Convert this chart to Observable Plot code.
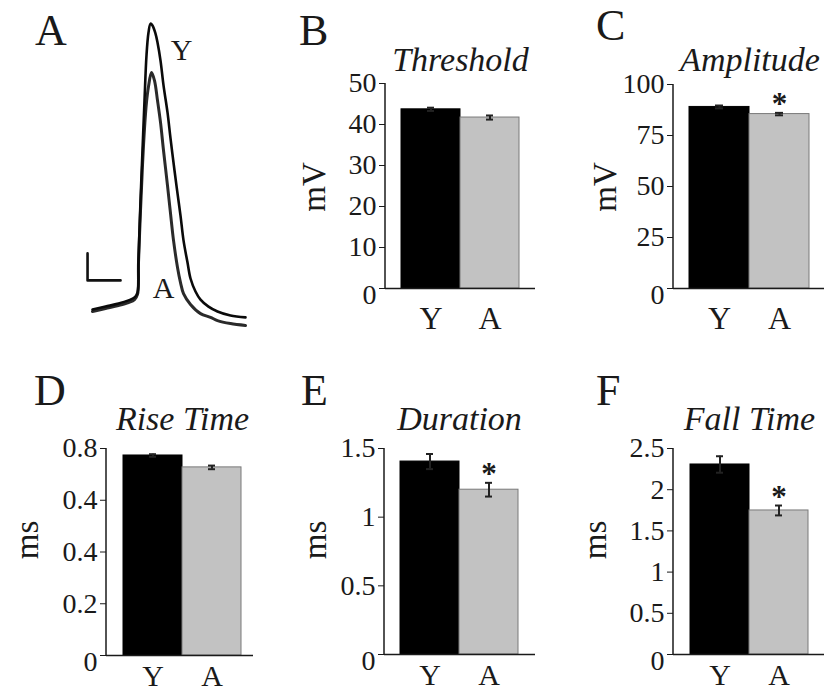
<!DOCTYPE html>
<html><head><meta charset="utf-8">
<script src="https://cdn.jsdelivr.net/npm/d3@7"></script>
<script src="https://cdn.jsdelivr.net/npm/@observablehq/plot@0.6"></script>
<style>
html,body{margin:0;padding:0;background:#fff;}
#fig{position:relative;width:824px;height:694px;overflow:hidden;background:#fff;}
#fig svg{position:absolute;left:0;top:0;}
</style></head><body><div id="fig"></div>
<script>
// ---------- DATA ----------
const groups = ["Y", "A"];

// Panel A: representative action potentials (time in ms, voltage in mV)
const traceYTime = [0,0.394,0.788,1.091,1.273,1.364,1.394,1.455,1.515,1.576,1.636,1.697,1.758,1.818,1.909,1.970,2.061,2.152,2.273,2.364,2.485,2.576,2.667,2.758,2.879,2.970,3.121,3.273,3.515,3.788,4.182,4.636];
const traceYVolt = [-66.5,-65.4,-64.3,-63.1,-62.0,-60.2,-48.3,-26.1,-7.6,10.9,27.6,36.1,39.4,38.7,35.7,32.4,25.7,16.5,6.5,-3.1,-15.0,-23.5,-31.7,-40.9,-49.1,-55.0,-59.8,-62.8,-65.4,-67.2,-68.7,-69.4];
const traceATime = [0,0.394,0.788,1.091,1.273,1.364,1.394,1.455,1.515,1.576,1.636,1.697,1.788,1.879,1.970,2.061,2.152,2.273,2.364,2.455,2.576,2.667,2.758,2.970,3.273,3.576,3.788,4.182,4.636];
const traceAVolt = [-67.2,-66.1,-65.0,-63.9,-62.8,-60.9,-49.1,-29.8,-13.1,0.6,10.2,16.1,21.3,18.3,10.9,2.8,-7.6,-20.6,-30.9,-40.9,-50.9,-56.5,-60.6,-64.6,-68.0,-69.4,-70.6,-71.7,-72.4];
const scaleBarMs = 1;
const scaleBarMv = 10;

// Panel B: Threshold (mV)
const thresholdMean = [43.7, 41.7];
const thresholdSem  = [0.4, 0.5];
const thresholdStar = [false, false];
const thresholdTicks = [0, 10, 20, 30, 40, 50];
const thresholdTickLabels = ["0", "10", "20", "30", "40", "50"];

// Panel C: Amplitude (mV)
const amplitudeMean = [89.0, 85.5];
const amplitudeSem  = [0.7, 0.6];
const amplitudeStar = [false, true];
const amplitudeTicks = [0, 25, 50, 75, 100];
const amplitudeTickLabels = ["0", "25", "50", "75", "100"];

// Panel D: Rise Time (ms)
const riseMean = [0.773, 0.727];
const riseSem  = [0.005, 0.007];
const riseStar = [false, false];
const riseTicks = [0, 0.2, 0.4, 0.6, 0.8];
const riseTickLabels = ["0", "0.2", "0.4", "0.4", "0.8"];

// Panel E: Duration (ms)
const durationMean = [1.405, 1.20];
const durationSem  = [0.055, 0.05];
const durationStar = [false, true];
const durationTicks = [0, 0.5, 1, 1.5];
const durationTickLabels = ["0", "0.5", "1", "1.5"];

// Panel F: Fall Time (ms)
const fallMean = [2.306, 1.748];
const fallSem  = [0.10, 0.06];
const fallStar = [false, true];
const fallTicks = [0, 0.5, 1, 1.5, 2, 2.5];
const fallTickLabels = ["0", "0.5", "1", "1.5", "2", "2.5"];

// ---------- LAYOUT ----------
const W = 824, H = 694;
const FONT = '"Liberation Serif","Times New Roman",serif';
const INK = "#1a1a1a";
const fig = document.getElementById("fig");

const panels = [
  {letter:"B", title:"Threshold", unit:"mV", mean:thresholdMean, sem:thresholdSem, star:thresholdStar, ticks:thresholdTicks, labels:thresholdTickLabels,
   axisX:385, barL:400, barR:519, baseEnd:535, yTop:83, yBot:288, letterX:299, letterY:45, titleY:71, unitX:314, unitY:187, xPad:18, xFont:32},
  {letter:"C", title:"Amplitude", unit:"mV", mean:amplitudeMean, sem:amplitudeSem, star:amplitudeStar, ticks:amplitudeTicks, labels:amplitudeTickLabels,
   axisX:673, barL:689, barR:809, baseEnd:824, yTop:84, yBot:288, letterX:596, letterY:40, titleY:71, unitX:605, unitY:187, xPad:18, xFont:32},
  {letter:"D", title:"Rise Time", unit:"ms", mean:riseMean, sem:riseSem, star:riseStar, ticks:riseTicks, labels:riseTickLabels,
   axisX:106, barL:122, barR:241, baseEnd:253, yTop:448, yBot:655, letterX:34, letterY:405, titleY:430, unitX:27, unitY:540, xPad:9, xFont:30},
  {letter:"E", title:"Duration", unit:"ms", mean:durationMean, sem:durationSem, star:durationStar, ticks:durationTicks, labels:durationTickLabels,
   axisX:384, barL:399, barR:518, baseEnd:535, yTop:448, yBot:654, letterX:301, letterY:405, titleY:430, unitX:315, unitY:540, xPad:9, xFont:30},
  {letter:"F", title:"Fall Time", unit:"ms", mean:fallMean, sem:fallSem, star:fallStar, ticks:fallTicks, labels:fallTickLabels,
   axisX:673, barL:689, barR:808, baseEnd:824, yTop:448, yBot:654, letterX:596, letterY:405, titleY:430, unitX:595, unitY:540, xPad:9, xFont:30}
];

function axisLine(index, scales, values, dimensions) {
  const y = scales.y;
  const dom = y.domain ? y.domain() : null;
  const [y0, y1] = dom ? [y(dom[0]), y(dom[dom.length - 1])] : [dimensions.height - dimensions.marginBottom, dimensions.marginTop];
  return d3.create("svg:line")
    .attr("x1", dimensions.marginLeft).attr("x2", dimensions.marginLeft)
    .attr("y1", y0).attr("y2", y1)
    .attr("stroke", INK).attr("stroke-width", 1.5).node();
}

function barPanel(p) {
  const data = groups.map((g, i) => ({g, m: p.mean[i], e: p.sem[i], star: p.star[i]}));
  const fmt = d => { const i = p.ticks.indexOf(d); return i >= 0 ? p.labels[i] : ""; };
  const yMax = p.ticks[p.ticks.length - 1];
  return Plot.plot({
    width: W, height: H,
    marginLeft: p.axisX, marginRight: W - p.baseEnd, marginTop: p.yTop, marginBottom: H - p.yBot,
    style: {background: "transparent", overflow: "visible", fontFamily: FONT, color: INK},
    x: {type: "band", domain: groups, range: [p.barL, p.barR], padding: 0, label: null},
    y: {domain: [0, yMax], label: null},
    marks: [
      Plot.barY(data.filter(d => d.g === "Y"), {x: "g", y: "m", fill: "#000", stroke: "#000", strokeWidth: 1}),
      Plot.barY(data.filter(d => d.g === "A"), {x: "g", y: "m", fill: "#c2c2c2", stroke: "#7a7a7a", strokeWidth: 1}),
      Plot.ruleX(data, {x: "g", y1: d => d.m - d.e, y2: d => d.m + d.e, stroke: "#222", strokeWidth: 2}),
      Plot.tickY(data, {x: "g", y: d => d.m + d.e, insetLeft: 26, insetRight: 26, stroke: "#222", strokeWidth: 2}),
      Plot.tickY(data, {x: "g", y: d => d.m - d.e, insetLeft: 26, insetRight: 26, stroke: "#222", strokeWidth: 2}),
      Plot.text(data.filter(d => d.star), {x: "g", y: d => d.m + d.e, text: () => "*", fontSize: 31, lineAnchor: "bottom", dy: 1, fill: INK, fontWeight: "bold"}),
      Plot.ruleY([0], {stroke: INK, strokeWidth: 1.5}),
      axisLine,
      Plot.axisY({ticks: p.ticks, tickFormat: d => d === 0 ? "" : fmt(d), tickSize: 6, tickPadding: 3, fontSize: 28, stroke: INK, fill: INK, label: null}),
      Plot.axisY({ticks: [0], tickFormat: fmt, tickSize: 0, tickPadding: 9, fontSize: 28, dy: 7, fill: INK, label: null}),
      Plot.axisX({tickSize: 0, tickPadding: p.xPad, fontSize: p.xFont, fill: INK, label: null})
    ]
  });
}

function tracePanel() {
  const trY = traceYTime.map((t, i) => ({t, v: traceYVolt[i]}));
  const trA = traceATime.map((t, i) => ({t, v: traceAVolt[i]}));
  const peakY = trY.reduce((a, b) => b.v > a.v ? b : a);
  const footA = trA[5];
  const sbT = -0.15, sbV = -55.7; // scale bar corner (layout)
  const bar = [{t: sbT, v: sbV + scaleBarMv}, {t: sbT, v: sbV}, {t: sbT + scaleBarMs, v: sbV}];
  return Plot.plot({
    width: W, height: H, margin: 0,
    style: {background: "transparent", overflow: "visible", fontFamily: FONT, color: INK},
    x: {domain: [0, 5], range: [92, 257], axis: null},
    y: {domain: [-75, 45], range: [332, 8], axis: null},
    marks: [
      Plot.line(trA, {x: "t", y: "v", stroke: "#2a2a2a", strokeWidth: 3, curve: "catmull-rom"}),
      Plot.line(trY, {x: "t", y: "v", stroke: "#0a0a0a", strokeWidth: 2.6, curve: "catmull-rom"}),
      Plot.line(bar, {x: "t", y: "v", stroke: "#111", strokeWidth: 2.6}),
      Plot.text([peakY], {x: "t", y: "v", text: () => "Y", fontSize: 30, dx: 31, dy: 27, fill: INK}),
      Plot.text([footA], {x: "t", y: "v", text: () => "A", fontSize: 30, dx: 26, dy: -6, fill: INK})
    ]
  });
}

fig.appendChild(tracePanel());
panels.forEach(p => fig.appendChild(barPanel(p)));

// Overlay text: panel letters, titles, unit labels
const ov = d3.create("svg").attr("width", W).attr("height", H)
  .style("position", "absolute").style("left", 0).style("top", 0)
  .style("font-family", FONT).style("fill", INK);
ov.append("text").attr("x", 35).attr("y", 45).attr("font-size", 44).text("A");
panels.forEach(p => {
  ov.append("text").attr("x", p.letterX).attr("y", p.letterY).attr("font-size", 44).text(p.letter);
  ov.append("text").attr("x", (p.barL + p.barR) / 2 + 1).attr("y", p.titleY).attr("text-anchor", "middle")
    .attr("font-size", 34).attr("font-style", "italic").text(p.title);
  ov.append("text").attr("transform", `translate(${p.unitX},${p.unitY}) rotate(-90)`)
    .attr("text-anchor", "middle").attr("dominant-baseline", "central").attr("font-size", 33).text(p.unit);
});
fig.appendChild(ov.node());
</script></body></html>
